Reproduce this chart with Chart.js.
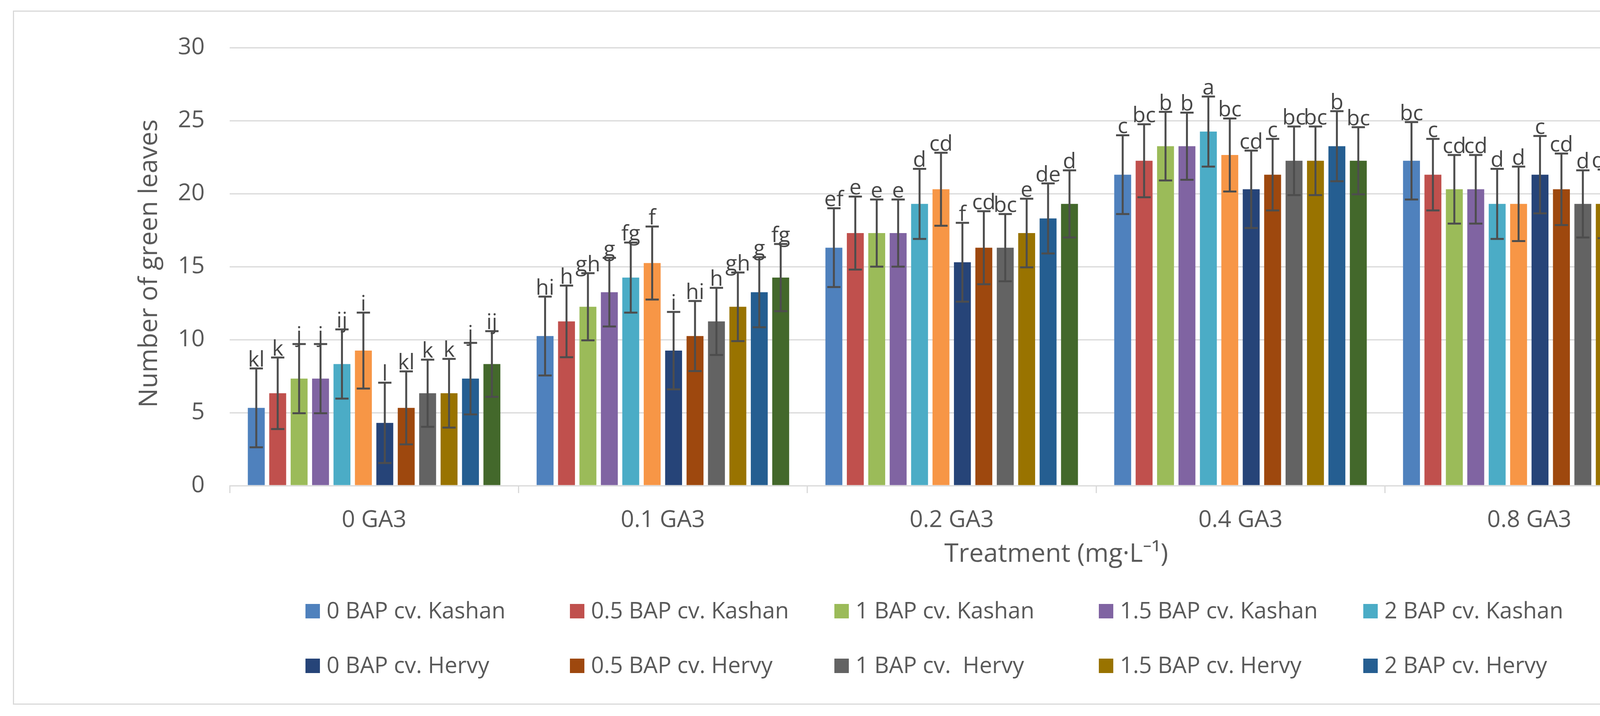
<!DOCTYPE html>
<html>
<head>
<meta charset="utf-8">
<script src="https://cdn.jsdelivr.net/npm/chart.js@4.4.1/dist/chart.umd.min.js"></script>
<style>
  body { margin: 0; background: #fff; }
  #frame { position: absolute; left: 33px; top: 27px; width: 5111px; height: 1778px; border: 3px solid #d9d9d9; box-sizing: border-box; }
  #myChart { position: absolute; left: 0; top: 0; }
</style>
</head>
<body>
<div id="frame"></div>
<canvas id="myChart" width="5177" height="1834"></canvas>
<script>
'use strict';

let categories = ['0 GA3', '0.1 GA3', '0.2 GA3', '0.4 GA3', '0.8 GA3', '1 GA3'];

let seriesNames = [
  '0 BAP cv. Kashan', '0.5 BAP cv. Kashan', '1 BAP cv. Kashan',
  '1.5 BAP cv. Kashan', '2 BAP cv. Kashan', '2.5 BAP cv. Kashan',
  '0 BAP cv. Hervy', '0.5 BAP cv. Hervy', '1 BAP cv.  Hervy',
  '1.5 BAP cv. Hervy', '2 BAP cv. Hervy', '2.5 BAP cv. Hervy'
];

let colors = [
  '#4f81bd', '#c0504d', '#9bbb59', '#8064a2', '#4bacc6', '#f79646',
  '#264478', '#9e480e', '#636363', '#997300', '#255e91', '#43682b'
];

// mean number of green leaves, one row per series, one value per GA3 level
let means = [
  [5.33, 10.25, 16.3, 21.3, 22.25, 18.3],
  [6.33, 11.25, 17.3, 22.25, 21.3, 17.3],
  [7.33, 12.25, 17.3, 23.25, 20.3, 15.3],
  [7.33, 13.25, 17.3, 23.25, 20.3, 13.3],
  [8.33, 14.25, 19.3, 24.25, 19.3, 11.25],
  [9.25, 15.25, 20.3, 22.65, 19.3, 7.3],
  [4.3, 9.25, 15.3, 20.3, 21.3, 17.3],
  [5.33, 10.25, 16.3, 21.3, 20.3, 16.3],
  [6.33, 11.25, 16.3, 22.25, 19.3, 14.3],
  [6.33, 12.25, 17.3, 22.25, 19.3, 12.3],
  [7.33, 13.25, 18.3, 23.25, 18.3, 10.25],
  [8.33, 14.25, 19.3, 22.25, 18.3, 9.25]
];

let errors = [
  [2.7, 2.7, 2.7, 2.7, 2.65, 2.7],
  [2.45, 2.45, 2.5, 2.5, 2.45, 2.5],
  [2.37, 2.3, 2.3, 2.35, 2.35, 2.3],
  [2.37, 2.35, 2.3, 2.3, 2.35, 2.3],
  [2.37, 2.4, 2.4, 2.4, 2.4, 2.4],
  [2.6, 2.5, 2.5, 2.5, 2.55, 2.6],
  [2.75, 2.65, 2.7, 2.65, 2.65, 2.75],
  [2.5, 2.4, 2.5, 2.45, 2.45, 2.45],
  [2.3, 2.3, 2.3, 2.35, 2.3, 2.3],
  [2.35, 2.35, 2.35, 2.35, 2.35, 2.35],
  [2.45, 2.4, 2.4, 2.4, 2.4, 2.4],
  [2.25, 2.3, 2.3, 2.3, 2.3, 2.25]
];

let letters = [
  ['kl', 'hi', 'ef', 'c', 'bc', 'de'],
  ['k', 'h', 'e', 'bc', 'c', 'e'],
  ['j', 'gh', 'e', 'b', 'cd', 'f'],
  ['j', 'g', 'e', 'b', 'cd', 'g'],
  ['ij', 'fg', 'd', 'a', 'd', 'h'],
  ['i', 'f', 'cd', 'bc', 'd', 'j'],
  ['l', 'i', 'f', 'cd', 'c', 'e'],
  ['kl', 'hi', 'cd', 'c', 'cd', 'ef'],
  ['k', 'h', 'bc', 'bc', 'd', 'fg'],
  ['k', 'gh', 'e', 'bc', 'de', 'gh'],
  ['j', 'g', 'de', 'b', 'de', 'hi'],
  ['ij', 'fg', 'd', 'bc', 'de', 'i']
];

let yTicks = [0, 5, 10, 15, 20, 25, 30];

let FONT = '"Open Sans", "Noto Sans", sans-serif';
let TEXT = '#595959';

let datasets = [];
for (let i = 0; i < seriesNames.length; i++) {
  datasets.push({
    label: seriesNames[i],
    data: means[i],
    backgroundColor: colors[i],
    borderWidth: 0,
    categoryPercentage: 0.89,
    barPercentage: 0.79
  });
}

// error bars + letters above them
let errorBarPlugin = {
  id: 'errorBars',
  afterDatasetsDraw(chart) {
    let ctx = chart.ctx;
    let yScale = chart.scales.y;
    ctx.save();
    for (let i = 0; i < datasets.length; i++) {
      let meta = chart.getDatasetMeta(i);
      for (let j = 0; j < meta.data.length; j++) {
        let bar = meta.data[j];
        let top = yScale.getPixelForValue(means[i][j] + errors[i][j]);
        let bot = yScale.getPixelForValue(means[i][j] - errors[i][j]);
        let half = 17;
        ctx.strokeStyle = '#4d4d4d';
        ctx.lineWidth = 5;
        ctx.beginPath();
        ctx.moveTo(bar.x, top);
        ctx.lineTo(bar.x, bot);
        ctx.moveTo(bar.x - half, top);
        ctx.lineTo(bar.x + half, top);
        ctx.moveTo(bar.x - half, bot);
        ctx.lineTo(bar.x + half, bot);
        ctx.stroke();

        ctx.fillStyle = '#474747';
        ctx.font = '55px ' + FONT;
        ctx.textAlign = 'center';
        ctx.textBaseline = 'alphabetic';
        ctx.fillText(letters[i][j], bar.x, top - 5);
      }
    }
    ctx.restore();
  }
};

// axis titles and the two-row legend in fixed columns
let extrasPlugin = {
  id: 'extras',
  afterDraw(chart) {
    let ctx = chart.ctx;
    ctx.save();
    ctx.fillStyle = TEXT;
    ctx.font = '66px ' + FONT;
    ctx.textAlign = 'center';
    ctx.textBaseline = 'middle';
    ctx.fillText('Treatment (mg\u00b7L\u207b\u00b9)', 2704, 1420);

    ctx.translate(383, 675);
    ctx.rotate(-Math.PI / 2);
    ctx.fillText('Number of green leaves', 0, 0);
    ctx.restore();

    ctx.save();
    ctx.font = '58px ' + FONT;
    ctx.textAlign = 'left';
    ctx.textBaseline = 'middle';
    let rowY = [1565, 1705];
    for (let i = 0; i < seriesNames.length; i++) {
      let col = i % 6;
      let row = Math.floor(i / 6);
      let x = 782 + col * 677;
      let y = rowY[row];
      ctx.fillStyle = colors[i];
      ctx.fillRect(x, y - 18, 37, 37);
      ctx.fillStyle = TEXT;
      ctx.fillText(seriesNames[i], x + 54, y + 2);
    }
    ctx.restore();
  }
};

let ctx = document.getElementById('myChart').getContext('2d');

new Chart(ctx, {
  type: 'bar',
  data: {
    labels: categories,
    datasets: datasets
  },
  options: {
    responsive: false,
    devicePixelRatio: 1,
    animation: false,
    layout: {
      padding: { top: 122, right: 153, bottom: 0, left: 0 }
    },
    plugins: {
      legend: { display: false },
      tooltip: { enabled: false }
    },
    scales: {
      x: {
        afterFit: function (scale) { scale.height = 590; },
        grid: {
          drawOnChartArea: false,
          drawTicks: true,
          tickLength: 19,
          color: '#d9d9d9',
          lineWidth: 3
        },
        border: { color: '#d9d9d9', width: 3 },
        ticks: {
          color: TEXT,
          font: { family: FONT, size: 60 },
          padding: 34
        }
      },
      y: {
        min: 0,
        max: 30,
        afterFit: function (scale) { scale.width = 588; },
        afterBuildTicks: function (scale) {
          scale.ticks = yTicks.map(function (v) { return { value: v }; });
        },
        grid: {
          color: '#d9d9d9',
          lineWidth: 3,
          drawTicks: false
        },
        border: { display: false },
        ticks: {
          color: TEXT,
          font: { family: FONT, size: 60 },
          padding: 64
        }
      }
    }
  },
  plugins: [errorBarPlugin, extrasPlugin]
});
</script>
</body>
</html>
